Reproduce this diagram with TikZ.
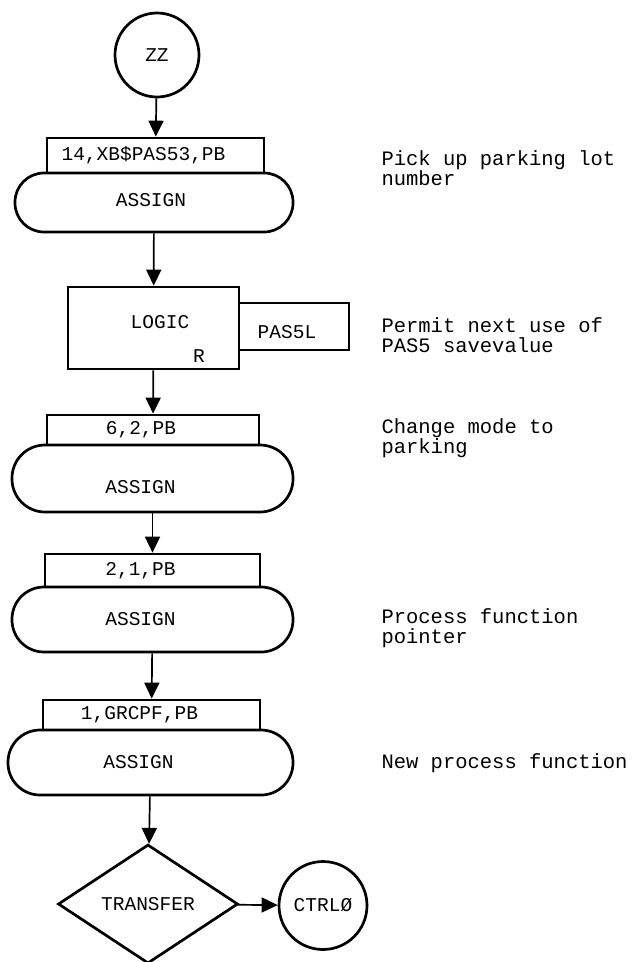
\documentclass[tikz,border=0pt]{standalone}
\usepackage{fontspec}
\setmainfont{Liberation Mono}
\usetikzlibrary{shapes.geometric,arrows.meta}

\begin{document}
\begin{tikzpicture}[x=1pt,y=-1pt,
  font=\fontsize{19.5}{20}\selectfont,
  blk/.style={draw,line width=2.7pt,inner sep=0pt},
  hdr/.style={blk,rectangle},
  asg/.style={blk,rectangle},
  txt/.style={label={[xshift=-12pt]center:#1}},
  flow/.style={line width=1.7pt,-{Triangle[length=16pt,width=15pt]}},
  note/.style={anchor=west,align=left,font=\fontsize{20.5}{20}\selectfont}]
\useasboundingbox (0,0) rectangle (635,962);

% Entry point
\node[blk,circle,minimum size=84pt] (zz) at (157,55) {ZZ};

% Assign blocks
\node[hdr,minimum width=217pt,minimum height=35pt,txt={14,XB\$PAS53,PB}] (hdr1) at (155.5,155.5) {};
\node[asg,rounded corners=29pt,minimum width=278pt,minimum height=59pt,
  label={[xshift=-3pt,yshift=2pt]center:ASSIGN}] (asg1) at (154,202.5) {};

% Logic block
\node[blk,minimum width=171pt,minimum height=82pt] (logic) at (153.5,328) {};
\node (logtxt) at (160,322) {LOGIC};
\node (logr) at (199,356) {R};
\node[blk,minimum width=110pt,minimum height=47pt,
  label={[xshift=-7pt,yshift=-6pt]center:PAS5L}] (pas5l) at (294,326.5) {};

\node[hdr,minimum width=212pt,minimum height=30pt,txt={6,2,PB}] (hdr2) at (153,430) {};
\node[asg,rounded corners=33pt,minimum width=281pt,minimum height=67pt,
  label={[xshift=-12pt,yshift=-9pt]center:ASSIGN}] (asg2) at (152.5,478.5) {};

\node[hdr,minimum width=215pt,minimum height=33pt,txt={2,1,PB}] (hdr3) at (152.5,570.5) {};
\node[asg,rounded corners=32pt,minimum width=281pt,minimum height=65pt,txt=ASSIGN] (asg3) at (152.5,619.5) {};

\node[hdr,minimum width=217pt,minimum height=30pt,txt={1,GRCPF,PB}] (hdr4) at (151.5,715) {};
\node[asg,rounded corners=32pt,minimum width=285pt,minimum height=65pt,txt=ASSIGN] (asg4) at (150.5,762.5) {};

% Transfer
\node[blk,diamond,aspect=1.5,minimum width=180pt,minimum height=119pt] (xfer) at (148,904) {TRANSFER};
\node[blk,circle,minimum size=88pt] (ctrl) at (323,905.5) {CTRLØ};

% Flow lines
\draw[flow] (zz) -- (hdr1);
\draw[flow] (asg1) -- (logic);
\draw[flow] (logic) -- (hdr2);
\draw[flow] (asg2) -- (hdr3);
\draw[flow] (asg3) -- (hdr4);
\draw[flow] (asg4) -- (xfer);
\draw[flow] (xfer) -- (ctrl);

% Comments
\node[note] (note1) at (378,168) {Pick up parking lot\\number};
\node[note] (note2) at (378,335) {Permit next use of\\PAS5 savevalue};
\node[note] (note3) at (378,438) {Change mode to\\parking};
\node[note] (note4) at (378,628) {Process function\\pointer};
\node[note] (note5) at (378,763) {New process function};
\end{tikzpicture}
\end{document}
